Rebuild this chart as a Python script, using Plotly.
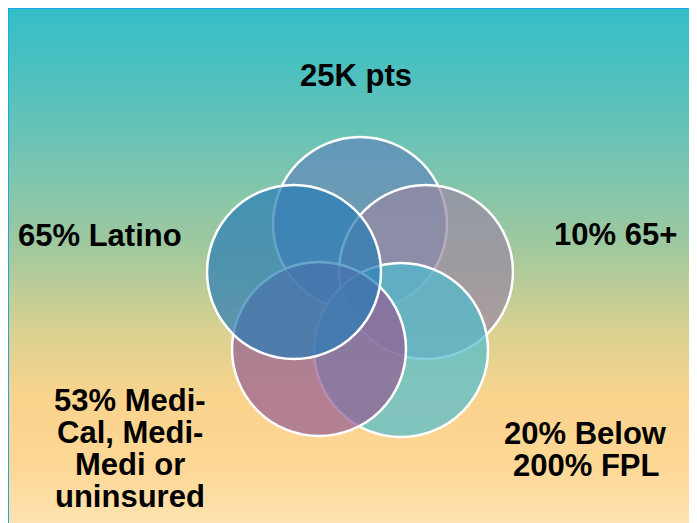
import plotly.graph_objects as go

# ---- content ----
labels = ["25K pts", "65% Latino", "10% 65+",
          "53% Medi-\nCal, Medi-\nMedi or\nuninsured",
          "20% Below\n200% FPL"]
circle_names = ["top", "right", "bottom_right", "bottom_left", "left"]

# ---- layout (pixel space of the page, y downward) ----
W, H = 697, 523
OFF = 8  # page body margin
label_pos = [(356, 75), (100, 235), (615, 234), (129.5, 400.5), (585.5, 433.5)]
line_gap = 32
circle_centers = [(360, 224), (426, 272), (401, 350), (319, 349), (294, 272)]
R = 87
circle_fill = ["rgba(95,135,186,0.7)", "rgba(152,136,162,0.7)",
               "rgba(77,188,208,0.7)", "rgba(148,91,146,0.7)",
               "rgba(40,124,183,0.7)"]

bg_scale = [[0.0, "rgb(50,190,200)"], [0.25, "rgb(105,195,182)"],
            [0.48, "rgb(165,201,156)"], [0.63, "rgb(218,209,144)"],
            [0.76, "rgb(250,212,141)"], [0.88, "rgb(253,215,148)"],
            [1.0, "rgb(254,226,176)"]]

fig = go.Figure()
fig.add_trace(go.Scatter(
    x=[7, W + 20, W + 20, 7, 7], y=[7, 7, H + 20, H + 20, 7],
    mode="lines", fill="toself", line=dict(width=0),
    fillgradient=dict(type="vertical", colorscale=bg_scale, start=7, stop=H),
    hoverinfo="skip", showlegend=False))

shapes = []
for (cx, cy), col in zip(circle_centers, circle_fill):
    shapes.append(dict(type="circle", xref="x", yref="y",
                       x0=cx - R, x1=cx + R, y0=cy - R, y1=cy + R,
                       fillcolor=col, line=dict(color="white", width=2.5),
                       layer="above"))
shapes.append(dict(type="rect", xref="x", yref="y", x0=8, y0=8, x1=W + 30, y1=H + 30,
                   fillcolor="rgba(0,0,0,0)", line=dict(color="#18a8ee", width=2),
                   layer="above"))

annotations = []
for text, (x, y) in zip(labels, label_pos):
    for i, line in enumerate(text.split("\n")):
        annotations.append(dict(x=x, y=y + i * line_gap, xref="x", yref="y",
                                text="<b>" + line + "</b>", showarrow=False,
                                xanchor="center", yanchor="middle",
                                font=dict(family="Liberation Sans, Arial", size=31,
                                          color="black")))

fig.update_layout(
    width=W, height=H, margin=dict(l=0, r=0, t=0, b=0),
    paper_bgcolor="white", plot_bgcolor="white",
    xaxis=dict(range=[OFF, W + OFF], visible=False, fixedrange=True),
    yaxis=dict(range=[H + OFF, OFF], visible=False, fixedrange=True),
    shapes=shapes, annotations=annotations, showlegend=False)

fig.write_html("out.html")
